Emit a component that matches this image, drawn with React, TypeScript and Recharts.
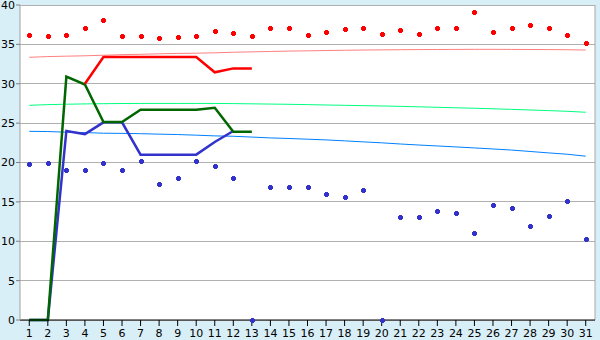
import React from 'react';
import { ComposedChart, Line, Scatter, XAxis, YAxis, CartesianGrid, ReferenceLine } from 'recharts';

const days = [1,2,3,4,5,6,7,8,9,10,11,12,13,14,15,16,17,18,19,20,21,22,23,24,25,26,27,28,29,30,31];
const yTicks = [0,5,10,15,20,25,30,35,40];

const redPoints = [36.2,36.05,36.2,37.05,38.05,36.05,36.05,35.8,35.9,36.05,36.65,36.4,36.05,37.05,37.05,36.2,36.55,36.9,37.1,36.3,36.85,36.3,37.05,37.05,39.05,36.55,37.05,37.4,37.05,36.15,35.15];
const bluePoints = [19.8,20.0,19.0,19.0,20.0,19.0,20.15,17.25,18.0,20.15,19.55,18.0,0,16.85,16.85,16.95,15.95,15.6,16.45,0,13.05,13.05,13.8,13.55,11.0,14.55,14.2,12.0,13.15,15.05,10.25];

const redLine: (number | null)[] = [null,null,null,30,33.4,33.4,33.4,33.4,33.4,33.4,31.45,31.95,31.95];
const greenLine: (number | null)[] = [0,0,30.9,29.9,25.15,25.15,26.7,26.7,26.7,26.7,26.95,23.9,23.9];
const blueLine: (number | null)[] = [0,0,24.0,23.6,25.1,25.1,21.0,21.0,21.0,21.0,22.6,24.0];

const pinkTrend = [33.36,33.45,33.5,33.55,33.62,33.7,33.74,33.8,33.85,33.88,33.93,34.0,34.05,34.1,34.15,34.18,34.22,34.25,34.28,34.3,34.32,34.34,34.35,34.36,34.37,34.37,34.36,34.35,34.34,34.32,34.28];
const greenTrend = [27.26,27.35,27.4,27.44,27.47,27.49,27.5,27.5,27.5,27.5,27.5,27.48,27.45,27.42,27.39,27.35,27.3,27.26,27.22,27.18,27.13,27.07,27.01,26.95,26.89,26.82,26.75,26.67,26.59,26.5,26.38];
const blueTrend = [23.96,23.93,23.85,23.8,23.72,23.7,23.66,23.6,23.55,23.47,23.38,23.33,23.23,23.12,23.05,22.96,22.87,22.75,22.62,22.5,22.35,22.22,22.1,21.98,21.85,21.72,21.58,21.4,21.22,21.05,20.8];

const data = days.map((d, i) => ({
  day: d,
  redLine: redLine[i] ?? null,
  greenLine: greenLine[i] ?? null,
  blueLine: blueLine[i] ?? null,
  pinkTrend: pinkTrend[i],
  greenTrend: greenTrend[i],
  blueTrend: blueTrend[i],
}));

const redData = days.map((d, i) => ({ day: d, v: redPoints[i] }));
const blueData = days.map((d, i) => ({ day: d, v: bluePoints[i] }));

const makeMarker = (color: string) => (props: any) => {
  const { cx, cy } = props;
  if (cx == null || cy == null) return <g />;
  const x = Math.round(cx);
  const y = Math.round(cy);
  const d = `M${x - 1},${y - 2}H${x + 2}V${y - 1}H${x + 3}V${y + 2}H${x + 2}V${y + 3}H${x - 1}V${y + 2}H${x - 2}V${y - 1}H${x - 1}Z`;
  return <path d={d} fill={color} stroke="none" shapeRendering="crispEdges" />;
};

const font = { fontFamily: 'DejaVu Sans', fontSize: 11, fill: '#000' };

export default function App() {
  return (
    <div style={{ position: 'absolute', left: 0, top: 0, width: 600, height: 340, background: '#d9eff7' }}>
      <ComposedChart width={600} height={340} data={data} margin={{ top: 5, right: 5, left: 0, bottom: 0 }}>
        <CartesianGrid vertical={false} stroke="#b0b0b0" fill="#ffffff" fillOpacity={1} shapeRendering="crispEdges" />
        <XAxis
          dataKey="day"
          type="number"
          domain={[0.5, 31.5]}
          ticks={days}
          interval={0}
          height={20}
          tickSize={6}
          tickMargin={3}
          tick={font}
          axisLine={{ stroke: '#000' }}
          tickLine={{ stroke: '#000' }}
          allowDataOverflow
        />
        <YAxis
          type="number"
          domain={[0, 40]}
          ticks={yTicks}
          interval={0}
          width={20}
          tickSize={4}
          tickMargin={1}
          tick={font}
          axisLine={{ stroke: '#a0a0a0' }}
          tickLine={{ stroke: '#808080' }}
        />
        <ReferenceLine x={31.5} stroke="#a8a8a8" ifOverflow="visible" />
        <Line dataKey="pinkTrend" stroke="#ff8080" strokeWidth={1} dot={false} isAnimationActive={false} />
        <Line dataKey="greenTrend" stroke="#00ff80" strokeWidth={1} dot={false} isAnimationActive={false} />
        <Line dataKey="blueTrend" stroke="#0080ff" strokeWidth={1} dot={false} isAnimationActive={false} />
        <Line dataKey="blueLine" stroke="#3333cc" strokeWidth={2.5} dot={false} isAnimationActive={false} />
        <Line dataKey="greenLine" stroke="#006600" strokeWidth={2.5} dot={false} isAnimationActive={false} />
        <Line dataKey="redLine" stroke="#ff0000" strokeWidth={2.5} dot={false} isAnimationActive={false} />
        <Scatter data={redData} dataKey="v" shape={makeMarker('#ff0000')} isAnimationActive={false} />
        <Scatter data={blueData} dataKey="v" shape={makeMarker('#3333cc')} isAnimationActive={false} />
      </ComposedChart>
    </div>
  );
}
